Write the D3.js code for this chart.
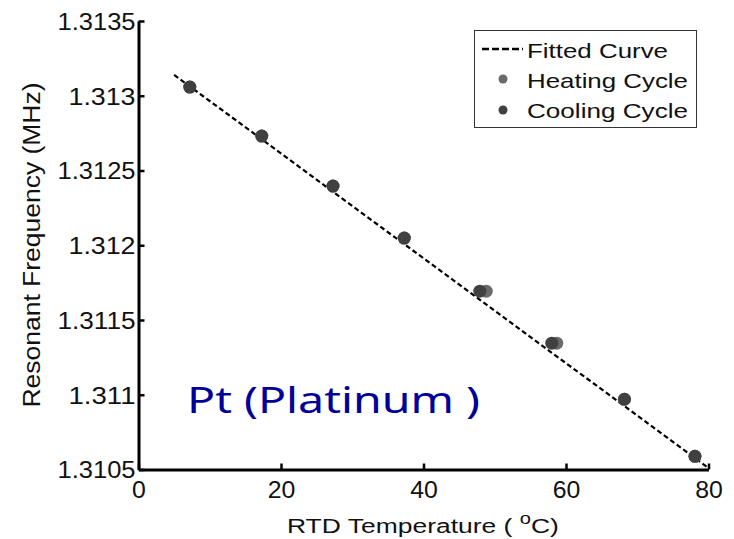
<!DOCTYPE html>
<html>
<head>
<meta charset="utf-8">
<script src="https://cdn.jsdelivr.net/npm/d3@7/dist/d3.min.js"></script>
<style>
  body { margin: 0; background: #fff; }
  svg { display: block; font-family: "Liberation Sans", Arial, sans-serif; }
</style>
</head>
<body>
<svg width="734" height="539"></svg>
<script>
// data
const coolingT = [7.2, 17.3, 27.3, 37.3, 47.9, 58.0, 68.2, 78.1];
const coolingF = [1.313058, 1.31273, 1.312396, 1.312048, 1.311693, 1.311345, 1.31097, 1.310588];
const heatingT = [7.2, 17.3, 27.3, 37.3, 48.8, 58.7, 68.2, 78.1];
const heatingF = [1.313058, 1.31273, 1.312396, 1.312048, 1.311693, 1.311345, 1.31097, 1.310588];
const fitT = [5, 80];
const fitF = [1.31314, 1.31051];
const xTicks = [0, 20, 40, 60, 80];
const yTicks = [1.3105, 1.311, 1.3115, 1.312, 1.3125, 1.313, 1.3135];
const yTickLabels = ["1.3105", "1.311", "1.3115", "1.312", "1.3125", "1.313", "1.3135"];
const legendLabels = ["Fitted Curve", "Heating Cycle", "Cooling Cycle"];

let svg = d3.select("svg")

let x = d3.scaleLinear().domain([0, 80]).range([138.5, 708.5])
let y = d3.scaleLinear().domain([1.3105, 1.3135]).range([469.5, 21])

// axes, ticks pointing inwards
let xAxis = svg.append("g")
               .attr("transform", "translate(0, 469.5)")
               .call(d3.axisBottom(x).tickValues(xTicks).tickSizeInner(-6).tickSizeOuter(0).tickPadding(12))
let yAxis = svg.append("g")
               .attr("transform", "translate(138.5, 0)")
               .call(d3.axisLeft(y).tickValues(yTicks).tickFormat((d, i) => yTickLabels[i]).tickSizeInner(-6).tickSizeOuter(0).tickPadding(3))

svg.selectAll(".domain").attr("stroke", "#000").attr("stroke-width", 3)
svg.selectAll(".tick line").attr("stroke", "#000").attr("stroke-width", 2.5)
xAxis.attr("font-family", null)
yAxis.attr("font-family", null)
xAxis.selectAll(".tick text").attr("font-size", 23).attr("fill", "#111").attr("dy", "0.72em")
     .attr("transform", "scale(1.08,1)")
yAxis.selectAll(".tick text").attr("font-size", 23).attr("fill", "#111").attr("dy", "0.36em")
     .attr("textLength", 78).attr("lengthAdjust", "spacingAndGlyphs")
yAxis.selectAll(".tick text").filter((d, i) => yTickLabels[i].length === 5).attr("textLength", 67)

// fitted line
let fitData = fitT.map((t, i) => ({ t: t, f: fitF[i] }))
svg.append("path")
   .datum(fitData)
   .attr("d", d3.line().x(d => x(d.t)).y(d => y(d.f)))
   .attr("fill", "none")
   .attr("stroke", "#000")
   .attr("stroke-width", 2.2)
   .attr("stroke-dasharray", "5,3")

// heating then cooling on top
svg.append("g").selectAll("circle")
   .data(heatingT)
   .enter()
   .append("circle")
   .attr("cx", (d, i) => x(d))
   .attr("cy", (d, i) => y(heatingF[i]))
   .attr("r", 6.5)
   .attr("fill", "#6a6a6a")

svg.append("g").selectAll("circle")
   .data(coolingT)
   .enter()
   .append("circle")
   .attr("cx", (d, i) => x(d))
   .attr("cy", (d, i) => y(coolingF[i]))
   .attr("r", 6.5)
   .attr("fill", "#404040")

// axis titles
svg.append("text")
   .attr("transform", "translate(40, 245) rotate(-90)")
   .attr("text-anchor", "middle")
   .attr("font-size", 23)
   .attr("fill", "#111")
   .attr("textLength", 325)
   .attr("lengthAdjust", "spacingAndGlyphs")
   .text("Resonant Frequency (MHz)")

let xTitle = svg.append("text")
   .attr("transform", "translate(287, 533) scale(1.26, 1)")
   .attr("font-size", 21)
   .attr("fill", "#111")
xTitle.append("tspan").text("RTD Temperature ( ")
xTitle.append("tspan").attr("dy", -9).attr("font-size", 16).text("o")
xTitle.append("tspan").attr("dy", 9).text("C)")

// legend
let legend = svg.append("g")
legend.append("rect")
      .attr("x", 474.5).attr("y", 30.5)
      .attr("width", 222).attr("height", 97)
      .attr("fill", "#fff").attr("stroke", "#333").attr("stroke-width", 1)
legend.append("line")
      .attr("x1", 482).attr("x2", 523).attr("y1", 49).attr("y2", 49)
      .attr("stroke", "#000").attr("stroke-width", 2.5).attr("stroke-dasharray", "7,3")
legend.append("circle").attr("cx", 503).attr("cy", 79).attr("r", 4.5).attr("fill", "#6a6a6a")
legend.append("circle").attr("cx", 503).attr("cy", 110).attr("r", 4.5).attr("fill", "#404040")
let legendLen = [141, 161, 161]
legend.selectAll("text.lab")
      .data(legendLabels)
      .enter()
      .append("text")
      .attr("x", 527)
      .attr("y", (d, i) => 58 + i * 30)
      .attr("font-size", 21)
      .attr("fill", "#111")
      .attr("textLength", (d, i) => legendLen[i])
      .attr("lengthAdjust", "spacingAndGlyphs")
      .text(d => d)

// annotation
svg.append("text")
   .attr("x", 187)
   .attr("y", 413)
   .attr("font-family", "'Noto Sans', 'DejaVu Sans', sans-serif")
   .attr("font-size", 37)
   .attr("fill", "#000099")
   .attr("textLength", 293)
   .attr("lengthAdjust", "spacingAndGlyphs")
   .text("Pt (Platinum )")
</script>
</body>
</html>
